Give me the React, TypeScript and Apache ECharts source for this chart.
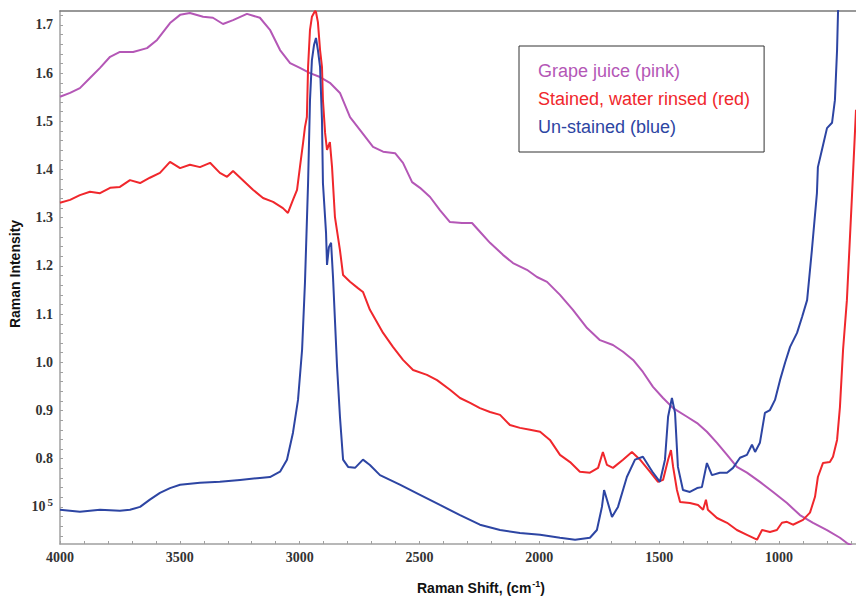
import React, { useEffect, useRef } from 'react';
import * as echarts from 'echarts';

// ---- Data (Raman shift in cm-1, intensity in units of 10^5) ----
const seriesNames = ['Grape juice (pink)', 'Stained, water rinsed (red)', 'Un-stained (blue)'];
const seriesColors = ['#B457B6', '#F0272C', '#2D45A3'];

const grapeJuice: [number, number][] = [
  [4000, 1.551], [3958, 1.559], [3917, 1.569], [3875, 1.590], [3833, 1.611], [3791, 1.634],
  [3750, 1.644], [3695, 1.644], [3637, 1.652], [3595, 1.669], [3541, 1.704], [3499, 1.721],
  [3458, 1.725], [3403, 1.717], [3362, 1.715], [3320, 1.702], [3278, 1.710], [3220, 1.723],
  [3166, 1.715], [3124, 1.690], [3082, 1.648], [3040, 1.621], [2999, 1.611], [2957, 1.600],
  [2915, 1.592], [2874, 1.580], [2832, 1.559], [2790, 1.509], [2748, 1.482], [2694, 1.447],
  [2652, 1.437], [2602, 1.434], [2569, 1.414], [2531, 1.374], [2498, 1.362], [2456, 1.343],
  [2415, 1.316], [2373, 1.291], [2323, 1.289], [2281, 1.289], [2248, 1.271], [2206, 1.248],
  [2152, 1.223], [2110, 1.206], [2052, 1.192], [2010, 1.177], [1968, 1.167], [1914, 1.140],
  [1860, 1.109], [1801, 1.071], [1747, 1.046], [1693, 1.036], [1651, 1.022], [1609, 1.005],
  [1568, 0.980], [1526, 0.949], [1484, 0.926], [1442, 0.905], [1384, 0.887], [1342, 0.874],
  [1301, 0.856], [1259, 0.833], [1217, 0.808], [1176, 0.783], [1134, 0.771], [1080, 0.752],
  [1025, 0.731], [967, 0.708], [913, 0.683], [858, 0.667], [800, 0.652], [746, 0.636],
  [717, 0.625], [679, 0.615],
];

const stainedRinsed: [number, number][] = [
  [4000, 1.331], [3958, 1.337], [3917, 1.347], [3875, 1.354], [3833, 1.351], [3791, 1.362],
  [3750, 1.364], [3708, 1.378], [3666, 1.372], [3625, 1.383], [3583, 1.393], [3541, 1.416],
  [3499, 1.403], [3458, 1.410], [3416, 1.405], [3374, 1.414], [3333, 1.393], [3303, 1.385],
  [3278, 1.397], [3237, 1.378], [3195, 1.358], [3153, 1.341], [3111, 1.333], [3070, 1.320],
  [3049, 1.310], [3028, 1.337], [3011, 1.358], [2999, 1.405], [2986, 1.455], [2978, 1.488],
  [2970, 1.509], [2965, 1.613], [2957, 1.690], [2949, 1.717], [2936, 1.729], [2932, 1.727],
  [2924, 1.706], [2915, 1.648], [2907, 1.613], [2903, 1.544], [2894, 1.476], [2886, 1.441],
  [2874, 1.457], [2865, 1.405], [2853, 1.302], [2832, 1.233], [2819, 1.181], [2790, 1.167],
  [2757, 1.154], [2736, 1.146], [2707, 1.109], [2652, 1.061], [2611, 1.032], [2569, 1.005],
  [2527, 0.984], [2469, 0.974], [2427, 0.963], [2373, 0.943], [2331, 0.926], [2289, 0.916],
  [2248, 0.905], [2206, 0.897], [2164, 0.891], [2123, 0.870], [2081, 0.864], [2039, 0.860],
  [1997, 0.856], [1956, 0.839], [1914, 0.808], [1872, 0.793], [1831, 0.773], [1789, 0.771],
  [1755, 0.781], [1735, 0.814], [1718, 0.787], [1693, 0.781], [1651, 0.798], [1614, 0.814],
  [1580, 0.798], [1539, 0.773], [1505, 0.752], [1484, 0.756], [1463, 0.798], [1451, 0.818],
  [1442, 0.783], [1426, 0.735], [1413, 0.710], [1372, 0.708], [1338, 0.704], [1317, 0.694],
  [1305, 0.715], [1297, 0.694], [1259, 0.677], [1217, 0.667], [1176, 0.652], [1134, 0.642],
  [1092, 0.632], [1071, 0.652], [1038, 0.648], [1009, 0.652], [988, 0.667], [967, 0.669],
  [942, 0.663], [900, 0.673], [871, 0.688], [850, 0.721], [838, 0.762], [817, 0.791],
  [788, 0.793], [775, 0.804], [758, 0.839], [746, 0.907], [733, 1.026], [717, 1.129],
  [696, 1.343], [679, 1.524],
];

const unstained: [number, number][] = [
  [4000, 0.694], [3917, 0.690], [3833, 0.694], [3750, 0.692], [3708, 0.694], [3666, 0.700],
  [3625, 0.715], [3583, 0.729], [3541, 0.739], [3499, 0.746], [3416, 0.750], [3333, 0.752],
  [3249, 0.756], [3166, 0.760], [3124, 0.762], [3082, 0.773], [3053, 0.798], [3028, 0.854],
  [3007, 0.922], [2990, 1.026], [2978, 1.165], [2965, 1.372], [2957, 1.544], [2949, 1.627],
  [2940, 1.659], [2932, 1.673], [2924, 1.648], [2915, 1.613], [2907, 1.503], [2903, 1.372],
  [2890, 1.268], [2886, 1.202], [2878, 1.239], [2869, 1.248], [2861, 1.177], [2844, 0.990],
  [2832, 0.887], [2819, 0.798], [2798, 0.783], [2769, 0.781], [2736, 0.798], [2707, 0.787],
  [2665, 0.766], [2582, 0.746], [2498, 0.725], [2415, 0.704], [2331, 0.683], [2248, 0.663],
  [2164, 0.652], [2081, 0.646], [1997, 0.642], [1914, 0.636], [1851, 0.632], [1789, 0.636],
  [1760, 0.652], [1739, 0.700], [1730, 0.735], [1718, 0.715], [1697, 0.679], [1672, 0.700],
  [1635, 0.762], [1601, 0.798], [1568, 0.804], [1526, 0.771], [1497, 0.752], [1476, 0.798],
  [1463, 0.887], [1447, 0.926], [1434, 0.895], [1422, 0.783], [1401, 0.735], [1372, 0.731],
  [1342, 0.739], [1322, 0.741], [1301, 0.791], [1280, 0.766], [1247, 0.771], [1217, 0.771],
  [1192, 0.781], [1163, 0.802], [1134, 0.808], [1113, 0.829], [1100, 0.814], [1080, 0.833],
  [1059, 0.895], [1038, 0.901], [1017, 0.922], [996, 0.963], [975, 0.999], [954, 1.032],
  [925, 1.061], [904, 1.094], [883, 1.129], [863, 1.233], [842, 1.351], [838, 1.405],
  [821, 1.441], [800, 1.486], [779, 1.497], [767, 1.544], [758, 1.648], [754, 1.727],
  [746, 1.793],
];

const xTickValues = [4000, 3500, 3000, 2500, 2000, 1500, 1000];
const xTickLabels = ['4000', '3500', '3000', '2500', '2000', '1500', '1000'];
const yTickValues = [0.7, 0.8, 0.9, 1.0, 1.1, 1.2, 1.3, 1.4, 1.5, 1.6, 1.7];
const yTickLabels = ['10^5', '0.8', '0.9', '1.0', '1.1', '1.2', '1.3', '1.4', '1.5', '1.6', '1.7'];

const X_MIN = 679;
const X_MAX = 4000;
const Y_MIN = 0.623;
const Y_MAX = 1.729;

const serif = "'Liberation Serif', 'DejaVu Serif', serif";
const sans = "'Liberation Sans', Arial, sans-serif";

export default function App() {
  const ref = useRef<HTMLDivElement>(null);

  useEffect(() => {
    if (!ref.current) return;
    const chart = echarts.init(ref.current, undefined, { renderer: 'svg' });

    const xMinor: number[] = [];
    for (let v = 700; v <= 4000; v += 100) xMinor.push(v);
    const yMinor: number[] = [];
    for (let i = 32; i <= 86; i++) yMinor.push(Math.round(i * 2) / 100);

    const yFormatter = (v: number) => {
      const idx = yTickValues.findIndex((t) => Math.abs(t - v) < 1e-6);
      if (idx < 0) return '';
      const lab = yTickLabels[idx];
      if (lab === '10^5') return '{b|10}{s|5}';
      return '{b|' + lab + '}';
    };
    const xFormatter = (v: number) => {
      const idx = xTickValues.findIndex((t) => Math.abs(t - v) < 1e-6);
      return idx < 0 ? '' : xTickLabels[idx];
    };

    const data = [grapeJuice, stainedRinsed, unstained];

    chart.setOption({
      animation: false,
      backgroundColor: '#ffffff',
      grid: { left: 60, top: 11, right: 0, bottom: 52, show: false },
      legend: {
        orient: 'vertical',
        left: 519,
        top: 46,
        icon: 'none',
        itemWidth: 0,
        itemHeight: 18,
        itemGap: 10,
        padding: [16, 14, 16, 14],
        borderColor: '#333',
        borderWidth: 1,
        selectedMode: false,
        textStyle: { fontFamily: sans, fontSize: 18, lineHeight: 18 },
        data: seriesNames.map((n, i) => ({ name: n, textStyle: { color: seriesColors[i] } })),
      },
      xAxis: [
        {
          type: 'value',
          inverse: true,
          min: X_MIN,
          max: X_MAX,
          position: 'bottom',
          axisLine: { show: true, lineStyle: { color: '#a0a0a0', width: 1.5 } },
          axisTick: {
            show: true,
            inside: true,
            length: 3,
            customValues: xMinor,
            lineStyle: { color: '#a0a0a0', width: 1 },
          },
          axisLabel: {
            customValues: xTickValues,
            formatter: xFormatter,
            margin: 6,
            fontFamily: serif,
            fontSize: 14,
            fontWeight: 'bold',
            color: '#333',
          },
          splitLine: { show: false },
        },
        {
          type: 'value',
          inverse: true,
          min: X_MIN,
          max: X_MAX,
          position: 'top',
          axisLine: { show: true, lineStyle: { color: '#777', width: 1.5 } },
          axisTick: { show: false },
          axisLabel: { show: false },
          splitLine: { show: false },
        },
      ],
      yAxis: {
        type: 'value',
        min: Y_MIN,
        max: Y_MAX,
        axisLine: { show: true, lineStyle: { color: '#a0a0a0', width: 1.5 } },
        axisTick: {
          show: true,
          inside: true,
          length: 3,
          customValues: yMinor,
          lineStyle: { color: '#a0a0a0', width: 1 },
        },
        axisLabel: {
          customValues: yTickValues,
          formatter: yFormatter,
          margin: 7,
          rich: {
            b: { fontFamily: serif, fontSize: 14, fontWeight: 'bold', color: '#333', lineHeight: 16 },
            s: {
              fontFamily: serif,
              fontSize: 11,
              fontWeight: 'bold',
              color: '#333',
              lineHeight: 11,
              padding: [0, 0, 9, 2],
            },
          },
        },
        splitLine: { show: false },
      },
      graphic: [
        {
          type: 'text',
          x: 15,
          y: 274,
          rotation: Math.PI / 2,
          style: {
            text: 'Raman Intensity',
            fill: '#111',
            font: `bold 14px ${sans}`,
            align: 'center',
            verticalAlign: 'middle',
          },
        },
        {
          type: 'text',
          x: 481,
          y: 588,
          style: {
            text: '{a|Raman Shift, (cm}{s|-1}{a|)}',
            align: 'center',
            verticalAlign: 'middle',
            rich: {
              a: { fontFamily: sans, fontSize: 14, fontWeight: 'bold', fill: '#111', lineHeight: 16 },
              s: {
                fontFamily: sans,
                fontSize: 9,
                fontWeight: 'bold',
                fill: '#111',
                lineHeight: 9,
                padding: [0, 0, 8, 1],
              },
            },
          },
        },
      ],
      series: data.map((d, i) => ({
        name: seriesNames[i],
        type: 'line',
        xAxisIndex: 0,
        data: d,
        showSymbol: false,
        symbol: 'none',
        lineStyle: { color: seriesColors[i], width: 2 },
        itemStyle: { color: seriesColors[i] },
        clip: true,
        z: 2 + i,
      })),
    });

    return () => chart.dispose();
  }, []);

  return (
    <div
      ref={ref}
      style={{ position: 'fixed', left: 0, top: 0, width: 856, height: 596, background: '#fff' }}
    />
  );
}
